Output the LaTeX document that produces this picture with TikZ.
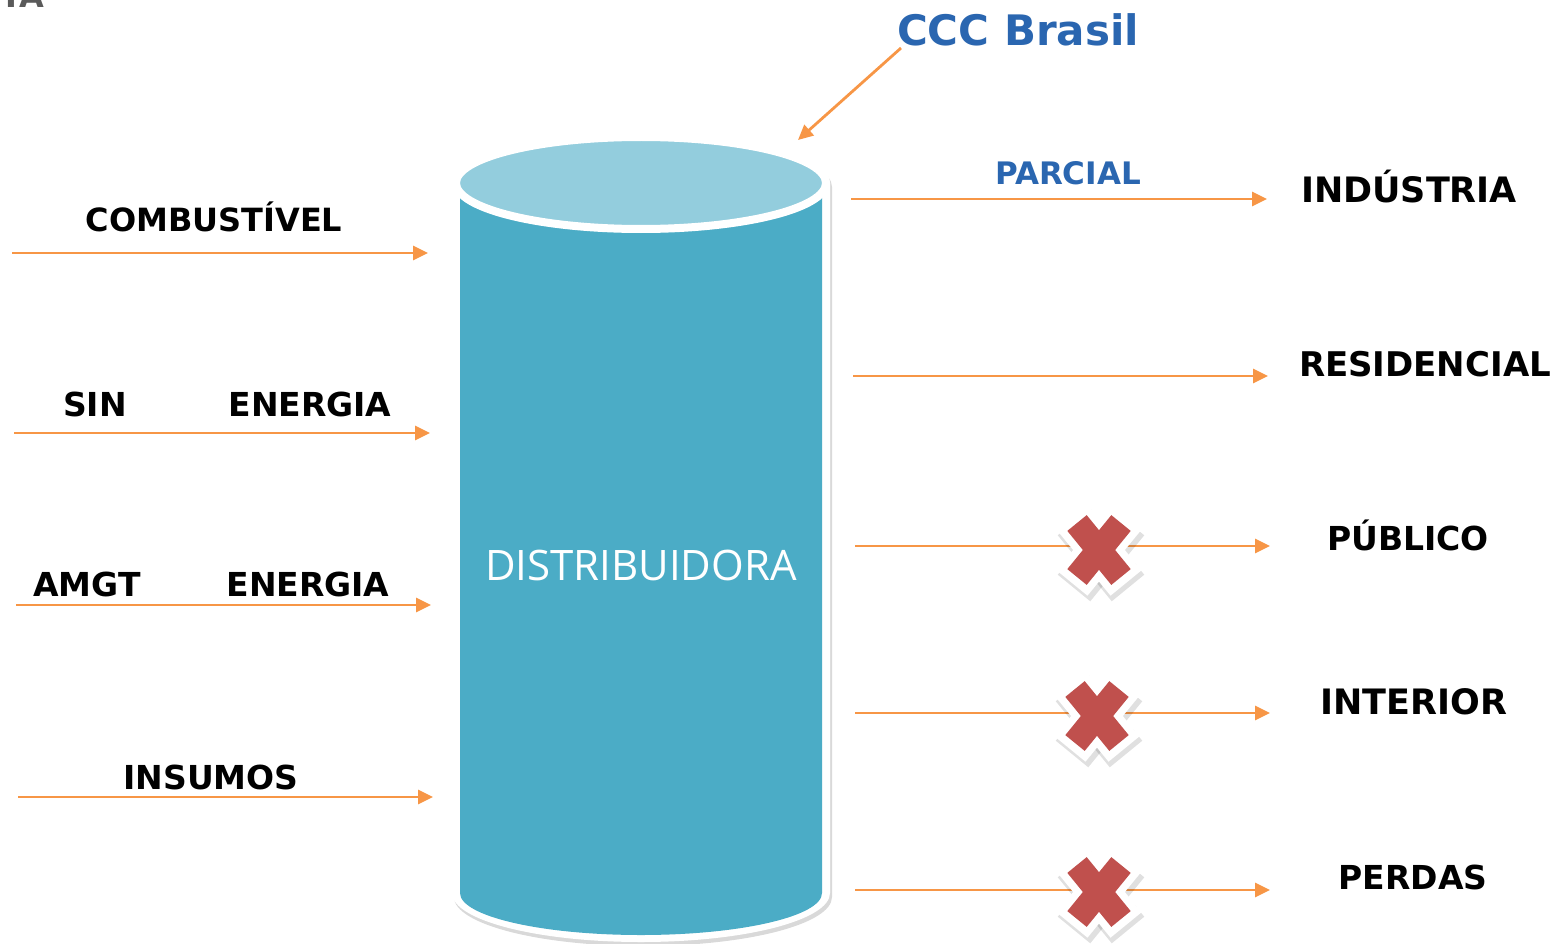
\documentclass[tikz,border=0pt]{standalone}
\usepackage{fontspec}
\setmainfont{DejaVu Sans}
\newfontfamily\osans{Open Sans}
\usetikzlibrary{shadows,arrows.meta}
\definecolor{arr}{HTML}{F79646}
\definecolor{body}{HTML}{4BACC6}
\definecolor{lid}{HTML}{93CDDD}
\definecolor{xred}{HTML}{C0504D}
\definecolor{ccc}{HTML}{2A66B0}
\definecolor{frag}{HTML}{5A5A5A}
\begin{document}
\begin{tikzpicture}[x=1pt,y=-1pt,
  flow/.style={draw=arr, line width=2.8pt, -{Triangle[length=15pt,width=14pt]}},
  lbl/.style={font=\fontsize{33}{38}\selectfont\bfseries, text=black, inner sep=0pt, anchor=base},
  bluelbl/.style={font=\fontsize{31}{36}\selectfont\bfseries, text=ccc, inner sep=0pt, anchor=base},
  xmark/.pic={
    \draw[black, opacity=0.12, line width=42pt] (-25,-28) -- (29,38);
    \draw[black, opacity=0.12, line width=42pt] (29,-28) -- (-25,38);
    \draw[white, line width=40pt] (-27,-33) -- (27,33);
    \draw[white, line width=40pt] (27,-33) -- (-27,33);
    \draw[xred, line width=25pt] (-22,-27) -- (22,27);
    \draw[xred, line width=25pt] (22,-27) -- (-22,27);
  }]
\useasboundingbox (0,0) rectangle (1554,944);
\clip (0,0) rectangle (1554,944);

% fragment at top-left
\node[font=\fontsize{32}{38}\selectfont\bfseries, text=frag, inner sep=0pt, anchor=base west] (frag) at (0,8) {TA};

% cylinder
\path[fill=white, drop shadow={opacity=0.3, shadow xshift=2pt, shadow yshift=-4pt}]
  (452,183) -- (452,893) arc (180:0:189 and 49) -- (830,183) arc (0:-180:189 and 49) -- cycle;
\fill[body] (460,190) -- (460,893) arc (180:0:181 and 42) -- (822,190) -- cycle;
\draw[white, line width=8pt, fill=lid] (641,183) ellipse (185 and 46);
\node[font=\osans\fontsize{42}{50}\selectfont, text=white, inner sep=0pt, anchor=base] (dist) at (641,580) {DISTRIBUIDORA};

\coordinate (cyl) at (798,140);

% title
\node[font=\fontsize{42}{50}\selectfont\bfseries, text=ccc, inner sep=0pt, anchor=base] (ccc) at (1018,46) {CCC Brasil};
\coordinate (cccfoot) at (901,48);
\draw[flow] (cccfoot) -- (cyl);

% left inputs
\coordinate (l1a) at (12,253);  \coordinate (l1b) at (428,253);
\coordinate (l2a) at (14,433);  \coordinate (l2b) at (430,433);
\coordinate (l3a) at (16,605);  \coordinate (l3b) at (431,605);
\coordinate (l4a) at (18,797);  \coordinate (l4b) at (433,797);
\draw[flow] (l1a) -- (l1b);
\draw[flow] (l2a) -- (l2b);
\draw[flow] (l3a) -- (l3b);
\draw[flow] (l4a) -- (l4b);
\node[lbl, font=\fontsize{32}{38}\selectfont\bfseries] (comb) at (214,231) {COMBUSTÍVEL};
\node[lbl] (sin) at (95,416) {SIN};
\node[lbl] (en1) at (310,416) {ENERGIA};
\node[lbl] (amgt) at (87,596) {AMGT};
\node[lbl] (en2) at (308,596) {ENERGIA};
\node[lbl] (ins) at (211,789) {INSUMOS};

% right outputs
\coordinate (r1a) at (851,199);  \coordinate (r1b) at (1267,199);
\coordinate (r2a) at (853,376);  \coordinate (r2b) at (1268,376);
\coordinate (r3a) at (855,546);  \coordinate (r3b) at (1270,546);
\coordinate (r4a) at (855,713);  \coordinate (r4b) at (1270,713);
\coordinate (r5a) at (855,890);  \coordinate (r5b) at (1270,890);
\draw[flow] (r1a) -- (r1b);
\draw[flow] (r2a) -- (r2b);
\draw[flow] (r3a) -- (r3b);
\draw[flow] (r4a) -- (r4b);
\draw[flow] (r5a) -- (r5b);
\node[bluelbl] (parc) at (1068,185) {PARCIAL};
\node[lbl, font=\fontsize{35}{40}\selectfont\bfseries] (ind) at (1409,203) {INDÚSTRIA};
\node[lbl, font=\fontsize{34}{40}\selectfont\bfseries] (res) at (1425,376) {RESIDENCIAL};
\node[lbl] (pub) at (1408,550) {PÚBLICO};
\node[lbl, font=\fontsize{35}{40}\selectfont\bfseries] (int) at (1414,714) {INTERIOR};
\node[lbl] (per) at (1413,889) {PERDAS};

% crosses
\pic at (1099,550) {xmark};
\pic at (1097,716) {xmark};
\pic at (1099,892) {xmark};
\end{tikzpicture}
\end{document}
